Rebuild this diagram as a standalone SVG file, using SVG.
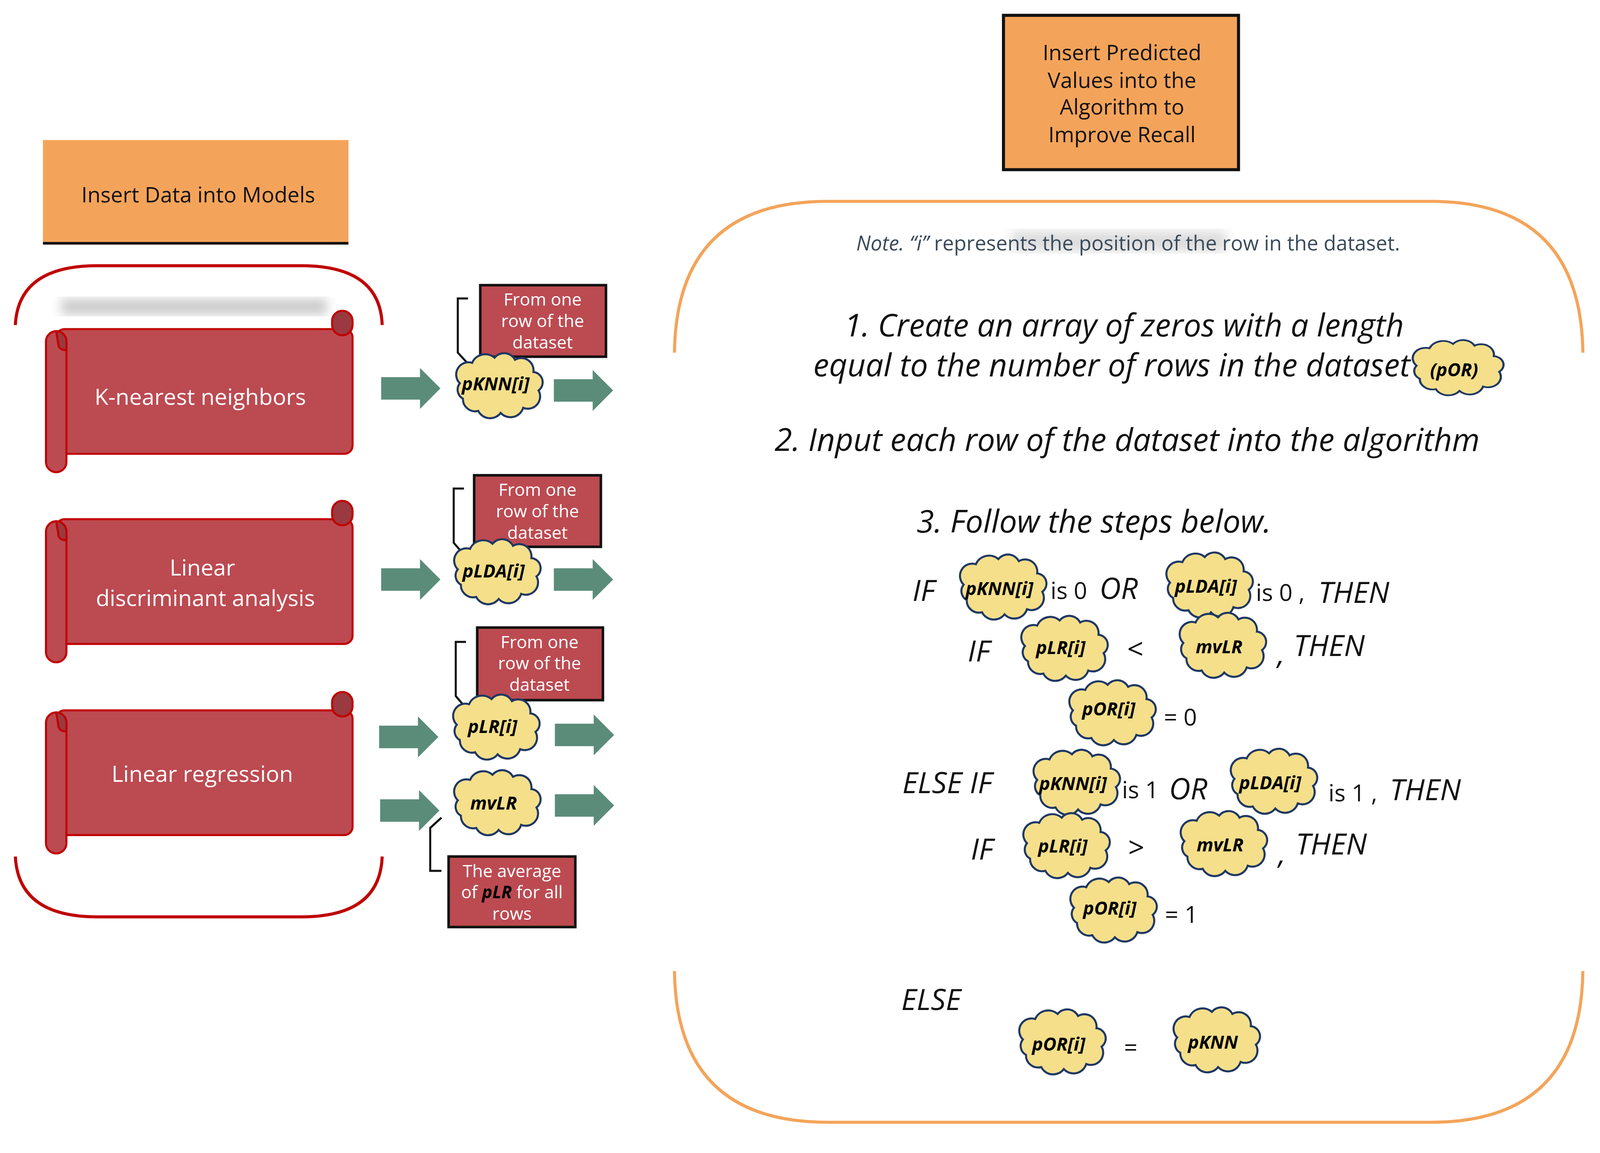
<svg xmlns="http://www.w3.org/2000/svg" width="4151" height="2951" viewBox="0 0 4151 2951">
<style>
text{font-family:"Open Sans","DejaVu Sans",sans-serif}
.w{fill:#fff;font-size:22px;text-anchor:middle}
.lb{fill:#fff;font-size:17px;text-anchor:middle}
.ct{fill:#000;font-size:18px;font-weight:bold;font-style:italic;text-anchor:middle}
.big{fill:#111;font-size:31px;font-style:italic}
.lg{fill:#111;font-size:29px;font-style:italic}
.sm{fill:#111;font-size:23px}
.op{fill:#111;font-size:28px}
.scroll{fill:#BC4A51;stroke:#C00000;stroke-width:2}
.curl{fill:#9A3A40;stroke:#C00000;stroke-width:2}
.box{fill:#BC4A51;stroke:#111;stroke-width:2.5}
.arr{fill:#5B8C7A}
.cl{fill:#F5DF8A;stroke:#1F3864;stroke-width:2}
.br{fill:none;stroke:#111;stroke-width:2}
</style>
<defs>
<path id="cloud" d="M -35,-5 a 12 12 0 0 1 12,-20 a 14 14 0 0 1 22,-5 a 12 12 0 0 1 20,2 a 12 12 0 0 1 18,12 a 10 10 0 0 1 5,18 a 12 12 0 0 1 -15,17 a 13 13 0 0 1 -22,5 a 13 13 0 0 1 -22,-2 a 12 12 0 0 1 -15,-12 a 10 10 0 0 1 -3,-15 z"/>
<path id="arrow" d="M0,-11 H38 V-20 L58,0 L38,20 V11 H0 Z"/>
<g id="scroll">
<rect class="scroll" x="55" y="0" width="290" height="122" rx="8"/>
<rect class="curl" x="325" y="-18" width="20" height="24" rx="10"/>
<rect class="scroll" x="45" y="2" width="20" height="138" rx="10"/>
<path class="curl" d="M55,2 a10 10 0 0 1 10,10 v8 a6 6 0 0 1 -8 -6 z"/>
</g>
<filter id="blur"><feGaussianBlur stdDeviation="5"/></filter>
</defs>
<rect width="4151" height="2951" fill="#fff"/>
<g transform="scale(2.616)">
<g id="title-left">
<rect x="42" y="137" width="299" height="101" fill="#F4A45A"/>
<line x1="42" y1="238" x2="341" y2="238" stroke="#111" stroke-width="2.5"/>
<text x="194" y="198" font-size="21" text-anchor="middle" fill="#111">Insert Data into Models</text>
</g>
<g id="left-bracket" fill="none" stroke="#C00000" stroke-width="3">
<path d="M15,318 Q18,260 95,260 H295 Q372,260 374,318"/>
<path d="M15,838 Q18,897 95,897 H295 Q372,897 374,838"/>
</g>
<rect x="60" y="292" width="260" height="16" fill="#ccc" filter="url(#blur)"/>
<g id="knn"><use href="#scroll" y="322"/><text class="w" x="196" y="396">K-nearest neighbors</text></g>
<g id="lda"><use href="#scroll" y="508"/><text class="w" x="198" y="563">Linear</text><text class="w" x="201" y="593">discriminant analysis</text></g>
<g id="lr"><use href="#scroll" y="695"/><text class="w" x="198" y="765">Linear regression</text></g>
<g id="connectors">
<use href="#arrow" class="arr" x="373" y="380"/>
<use href="#arrow" class="arr" x="542" y="382"/>
<use href="#arrow" class="arr" x="373" y="567"/>
<use href="#arrow" class="arr" x="542" y="567"/>
<use href="#arrow" class="arr" x="371" y="721"/>
<use href="#arrow" class="arr" x="543" y="719"/>
<use href="#arrow" class="arr" x="372" y="793"/>
<use href="#arrow" class="arr" x="543" y="788"/>
<path class="br" d="M458,292 H448 V345 L460,358"/>
<path class="br" d="M454,478 H444 V531 L456,545"/>
<path class="br" d="M456,628 H446 V681 L458,695"/>
<path class="br" d="M432,800 L421,810 V852 H432"/>
</g>
<g id="box1"><rect class="box" x="470" y="279" width="123" height="70"/><text class="lb" x="531" y="299">From one</text><text class="lb" x="531" y="320">row of the</text><text class="lb" x="531" y="341">dataset</text></g>
<g id="box2"><rect class="box" x="464" y="465" width="124" height="70"/><text class="lb" x="526" y="485">From one</text><text class="lb" x="526" y="506">row of the</text><text class="lb" x="526" y="527">dataset</text></g>
<g id="box3"><rect class="box" x="467" y="614" width="123" height="71"/><text class="lb" x="528" y="634">From one</text><text class="lb" x="528" y="655">row of the</text><text class="lb" x="528" y="676">dataset</text></g>
<g id="box4"><rect class="box" x="439" y="838" width="124" height="69"/><text class="lb" x="501" y="858" font-size="15">The average</text><text class="lb" x="501" y="879" font-size="15">of <tspan font-weight="bold" font-style="italic" fill="#000">pLR</tspan> for all</text><text class="lb" x="501" y="900" font-size="15">rows</text></g>
<g id="c-pknn"><use href="#cloud" class="cl" x="485" y="380"/><text class="ct" x="485" y="382">pKNN[i]</text></g>
<g id="c-plda"><use href="#cloud" class="cl" x="483" y="562"/><text class="ct" x="483" y="565">pLDA[i]</text></g>
<g id="c-plr"><use href="#cloud" class="cl" x="482" y="714"/><text class="ct" x="482" y="717">pLR[i]</text></g>
<g id="c-mvlr"><use href="#cloud" class="cl" x="483" y="788"/><text class="ct" x="483" y="792">mvLR</text></g>

<g id="title-right">
<rect x="982" y="15" width="230" height="151" fill="#F4A45A" stroke="#111" stroke-width="3"/>
<text x="1098" y="59" font-size="21" text-anchor="middle" fill="#111">Insert Predicted</text>
<text x="1098" y="86" font-size="21" text-anchor="middle" fill="#111">Values into the</text>
<text x="1098" y="112" font-size="21" text-anchor="middle" fill="#111">Algorithm to</text>
<text x="1098" y="139" font-size="21" text-anchor="middle" fill="#111">Improve Recall</text>
</g>
<g id="right-bracket" fill="none" stroke="#F4A45A" stroke-width="3">
<path d="M660,345 Q662,197 810,197 H1400 Q1547,197 1549,345"/>
<path d="M660,950 Q662,1098 810,1098 H1400 Q1547,1098 1549,950"/>
</g>
<rect x="990" y="226" width="210" height="20" fill="#ddd" filter="url(#blur)"/>
<text x="1104" y="245" font-size="20" text-anchor="middle" fill="#3A4A5A"><tspan font-style="italic">Note. “i”</tspan> represents the position of the row in the dataset.</text>
<text class="big" x="1100" y="329" text-anchor="middle">1. Create an array of zeros with a length</text>
<text class="big" x="1380" y="368" text-anchor="end">equal to the number of rows in the dataset</text>
<g id="c-por-main"><use href="#cloud" class="cl" transform="translate(1423,362) scale(1.05,0.85)"/><text class="ct" x="1423" y="368">(pOR)</text></g>
<text class="big" x="1103" y="441" text-anchor="middle">2. Input each row of the dataset into the algorithm</text>
<text class="big" x="897" y="521">3. Follow the steps below.</text>

<text class="lg" x="893" y="588">IF</text>
<g id="r1a"><use href="#cloud" class="cl" x="978" y="577"/><text class="ct" x="978" y="582">pKNN[i]</text></g>
<text class="sm" x="1028" y="586">is 0</text>
<text class="lg" x="1076" y="586">OR</text>
<g id="r1b"><use href="#cloud" class="cl" x="1180" y="575"/><text class="ct" x="1180" y="580">pLDA[i]</text></g>
<text class="sm" x="1229" y="588">is 0 ,</text>
<text class="lg" x="1290" y="590">THEN</text>

<text class="lg" x="947" y="647">IF</text>
<g id="r2a"><use href="#cloud" class="cl" x="1038" y="637"/><text class="ct" x="1038" y="640">pLR[i]</text></g>
<text class="op" x="1103" y="645">&lt;</text>
<g id="r2b"><use href="#cloud" class="cl" x="1193" y="634"/><text class="ct" x="1193" y="639">mvLR</text></g>
<text class="lg" x="1250" y="650">,</text>
<text class="lg" x="1266" y="642">THEN</text>

<g id="r3"><use href="#cloud" class="cl" x="1085" y="700"/><text class="ct" x="1085" y="700">pOR[i]</text></g>
<text class="sm" x="1139" y="710">= 0</text>

<text class="lg" x="883" y="776">ELSE IF</text>
<g id="r4a"><use href="#cloud" class="cl" x="1050" y="768"/><text class="ct" x="1050" y="773">pKNN[i]</text></g>
<text class="sm" x="1098" y="781">is 1</text>
<text class="lg" x="1144" y="782">OR</text>
<g id="r4b"><use href="#cloud" class="cl" x="1243" y="767"/><text class="ct" x="1243" y="772">pLDA[i]</text></g>
<text class="sm" x="1300" y="784">is 1 ,</text>
<text class="lg" x="1360" y="783">THEN</text>

<text class="lg" x="950" y="841">IF</text>
<g id="r5a"><use href="#cloud" class="cl" x="1040" y="830"/><text class="ct" x="1040" y="834">pLR[i]</text></g>
<text class="op" x="1104" y="839">&gt;</text>
<g id="r5b"><use href="#cloud" class="cl" x="1194" y="828"/><text class="ct" x="1194" y="833">mvLR</text></g>
<text class="lg" x="1251" y="845">,</text>
<text class="lg" x="1268" y="836">THEN</text>

<g id="r6"><use href="#cloud" class="cl" x="1086" y="893"/><text class="ct" x="1086" y="895">pOR[i]</text></g>
<text class="sm" x="1140" y="903">= 1</text>

<text class="lg" x="882" y="988">ELSE</text>
<g id="r7a"><use href="#cloud" class="cl" x="1036" y="1022"/><text class="ct" x="1036" y="1028">pOR[i]</text></g>
<text class="sm" x="1100" y="1033">=</text>
<g id="r7b"><use href="#cloud" class="cl" x="1187" y="1020"/><text class="ct" x="1187" y="1026">pKNN</text></g>
</g>
</svg>
